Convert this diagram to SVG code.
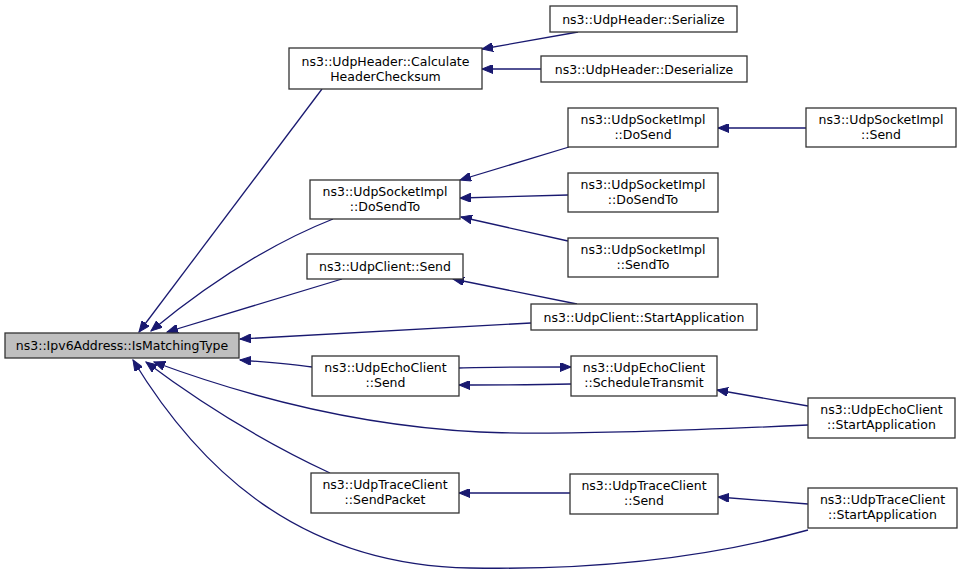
<svg xmlns="http://www.w3.org/2000/svg" width="963" height="576" viewBox="0 0 963 576">
<style>
.n rect{fill:#ffffff;stroke:#333333;stroke-width:1.3}
.n.main rect{fill:#bfbfbf}
.n text{font-family:"DejaVu Sans",sans-serif;font-size:12.5px;fill:#000;text-anchor:middle}
.e path{fill:none;stroke:#191970;stroke-width:1.3;marker-end:url(#ah)}
</style>
<defs>
<marker id="ah" markerUnits="userSpaceOnUse" markerWidth="12" markerHeight="9" refX="11" refY="4.5" orient="auto">
<path d="M0,0 L11,4.5 L0,9 z" fill="#191970" stroke="#191970" stroke-width="1"/>
</marker>
</defs>
<rect width="963" height="576" fill="#ffffff"/>
<g class="e" id="edges">
<path d="M322,89 L139,332"/>
<path d="M333,219 C290,236 230,266 151,331"/>
<path d="M342,279 L167,332"/>
<path d="M531,323 L240,339"/>
<path d="M312,367 C290,364 265,362 240,360"/>
<path d="M808,425 C700,430 560,436 480,432 C380,427 270,405 154,362"/>
<path d="M330,473 C270,445 210,410 146,362"/>
<path d="M808,530 C700,560 580,570 470,568 C300,565 200,470 133,360"/>
<path d="M578,32 L482,49"/>
<path d="M541,69 L482,69"/>
<path d="M569,147 L460,180"/>
<path d="M568,195 L460,198"/>
<path d="M568,241 L461,217"/>
<path d="M806,128 L718,128"/>
<path d="M577,304 L453,279"/>
<path d="M459,368 C490,367 530,367 571,367"/>
<path d="M571,384 C530,385 490,385 459,385"/>
<path d="M808,406 L717,390"/>
<path d="M570,493 L459,493"/>
<path d="M808,504 L718,497"/>
</g>
<g class="n main" id="n0"><rect x="5" y="333" width="234" height="25"/><text x="122" y="350">ns3::Ipv6Address::IsMatchingType</text></g>
<g class="n" id="n1"><rect x="289" y="48" width="193" height="41"/><text x="385.5" y="66">ns3::UdpHeader::Calculate</text><text x="385.5" y="80.5">HeaderChecksum</text></g>
<g class="n" id="n2"><rect x="550" y="6" width="187" height="26"/><text x="643.5" y="23.5">ns3::UdpHeader::Serialize</text></g>
<g class="n" id="n3"><rect x="541" y="56" width="206" height="26"/><text x="644" y="73.5">ns3::UdpHeader::Deserialize</text></g>
<g class="n" id="n4"><rect x="310" y="180" width="150" height="39"/><text x="385" y="196">ns3::UdpSocketImpl</text><text x="385" y="211">::DoSendTo</text></g>
<g class="n" id="n5"><rect x="568" y="108" width="150" height="39"/><text x="643" y="124">ns3::UdpSocketImpl</text><text x="643" y="139">::DoSend</text></g>
<g class="n" id="n6"><rect x="806" y="108" width="150" height="39"/><text x="881" y="124">ns3::UdpSocketImpl</text><text x="881" y="139">::Send</text></g>
<g class="n" id="n7"><rect x="568" y="173" width="150" height="39"/><text x="643" y="189">ns3::UdpSocketImpl</text><text x="643" y="204">::DoSendTo</text></g>
<g class="n" id="n8"><rect x="568" y="238" width="150" height="39"/><text x="643" y="254">ns3::UdpSocketImpl</text><text x="643" y="269">::SendTo</text></g>
<g class="n" id="n9"><rect x="307" y="254" width="156" height="25"/><text x="385" y="271">ns3::UdpClient::Send</text></g>
<g class="n" id="n10"><rect x="531" y="304" width="226" height="26"/><text x="644" y="321.5">ns3::UdpClient::StartApplication</text></g>
<g class="n" id="n11"><rect x="312" y="356" width="147" height="40"/><text x="385.5" y="371.5">ns3::UdpEchoClient</text><text x="385.5" y="386.5">::Send</text></g>
<g class="n" id="n12"><rect x="571" y="356" width="146" height="40"/><text x="644" y="371.5">ns3::UdpEchoClient</text><text x="644" y="386.5">::ScheduleTransmit</text></g>
<g class="n" id="n13"><rect x="808" y="398" width="147" height="40"/><text x="881.5" y="413.5">ns3::UdpEchoClient</text><text x="881.5" y="428.5">::StartApplication</text></g>
<g class="n" id="n14"><rect x="311" y="473" width="148" height="40"/><text x="385" y="488.5">ns3::UdpTraceClient</text><text x="385" y="503.5">::SendPacket</text></g>
<g class="n" id="n15"><rect x="570" y="474" width="148" height="40"/><text x="644" y="489.5">ns3::UdpTraceClient</text><text x="644" y="504.5">::Send</text></g>
<g class="n" id="n16"><rect x="808" y="488" width="149" height="40"/><text x="882.5" y="503.5">ns3::UdpTraceClient</text><text x="882.5" y="518.5">::StartApplication</text></g>
</svg>
